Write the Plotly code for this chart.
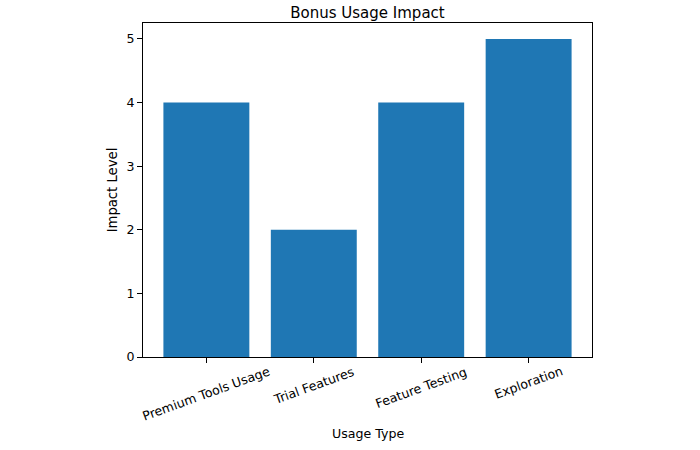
import plotly.graph_objects as go

categories = ["Premium Tools Usage", "Trial Features", "Feature Testing", "Exploration"]
impact = [4, 2, 4, 5]
y_ticks = [0, 1, 2, 3, 4, 5]

font = "DejaVu Sans"
small = 12.6

fig = go.Figure()
fig.add_trace(go.Bar(x=list(range(len(categories))), y=impact, width=0.8,
                     marker=dict(color="#1f77b4", line=dict(width=0))))

# rotated category labels, centred under each tick like matplotlib
for i, c in enumerate(categories):
    fig.add_annotation(x=i, y=0, xref="x", yref="paper", text=c, showarrow=False,
                       textangle=-20, yanchor="top", xanchor="center", yshift=-4,
                       font=dict(family=font, size=small, color="black"))

fig.add_annotation(x=0.5, y=0, xref="paper", yref="paper", text="Usage Type",
                   showarrow=False, yanchor="middle", yshift=-76,
                   font=dict(family=font, size=small, color="black"))

fig.update_layout(
    width=700, height=450,
    margin=dict(l=143, r=108, t=23, b=93),
    plot_bgcolor="white", paper_bgcolor="white",
    showlegend=False,
    title=dict(text="Bonus Usage Impact", x=0.5, xref="paper", xanchor="center",
               y=1, yref="paper", yanchor="bottom", pad=dict(b=5),
               font=dict(family=font, size=15, color="black")),
    xaxis=dict(range=[-0.59, 3.59], tickvals=list(range(len(categories))),
               showticklabels=False, ticks="outside", ticklen=5, tickcolor="black",
               showline=True, linecolor="black", linewidth=1, mirror=True,
               showgrid=False, zeroline=False),
    yaxis=dict(range=[0, 5.25], tickvals=y_ticks, ticks="outside", ticklen=5,
               tickcolor="black", showline=True, linecolor="black", linewidth=1,
               mirror=True, showgrid=False, zeroline=False,
               tickfont=dict(family=font, size=small, color="black"),
               title=dict(text="Impact Level", standoff=5,
                          font=dict(family=font, size=13.2, color="black"))),
)

# no page margin so the figure sits at the window corner
fig.write_html("out.html", config={"displayModeBar": False},
               post_script="document.body.style.margin='0';")
